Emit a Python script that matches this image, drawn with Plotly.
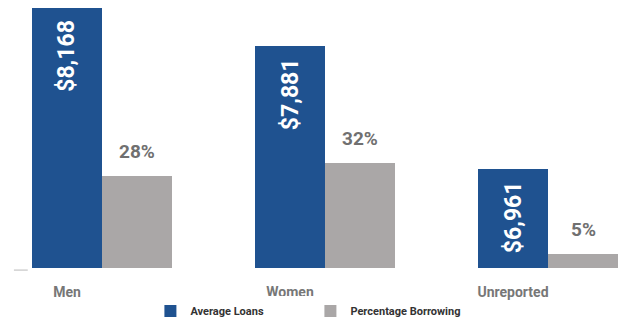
import plotly.graph_objects as go

# Data
categories = ["Men", "Women", "Unreported"]
avg_loans = [8168, 7881, 6961]
pct_borrowing = [28, 32, 5]

BLUE = "#1f5290"
GRAY = "#aaa7a7"
FONT = "Roboto"

bar_w = 0.314
idx = list(range(len(categories)))
x_blue = [i - bar_w / 2 for i in idx]
x_gray = [i + bar_w / 2 for i in idx]

fig = go.Figure()
fig.add_trace(go.Bar(
    name="Average Loans", x=x_blue, y=avg_loans, width=bar_w,
    marker=dict(color=BLUE, line=dict(width=0)), yaxis="y",
))
fig.add_trace(go.Bar(
    name="Percentage Borrowing", x=x_gray, y=pct_borrowing, width=bar_w,
    marker=dict(color=GRAY, line=dict(width=0)), yaxis="y2",
))

# Value labels: rotated inside the blue bars, above the gray bars
for xb, v in zip(x_blue, avg_loans):
    fig.add_annotation(
        x=xb, y=v, xref="x", yref="y", text=f"${v:,}", textangle=-90,
        showarrow=False, xanchor="center", yanchor="top", yshift=-10,
        font=dict(family=FONT, size=23, color="white", weight="bold"),
    )
for xg, v in zip(x_gray, pct_borrowing):
    fig.add_annotation(
        x=xg, y=v, xref="x", yref="y2", text=f"{v}%",
        showarrow=False, xanchor="center", yanchor="bottom", yshift=11,
        font=dict(family=FONT, size=19, color="#707070", weight="bold"),
    )

# short baseline stub at the left edge
fig.add_shape(type="line", xref="x", yref="paper",
              x0=-0.395, x1=-0.333, y0=-0.008, y1=-0.008,
              line=dict(color="#d0d0d0", width=1.5))

fig.update_layout(
    width=621, height=322,
    margin=dict(l=12, r=0, t=5, b=54, autoexpand=False),
    paper_bgcolor="white", plot_bgcolor="white",
    barmode="overlay", bargap=0,
    showlegend=True,
    legend=dict(
        orientation="h", x=0.49, xanchor="center", y=-0.108, yanchor="top",
        font=dict(family=FONT, size=11, color="#333333", weight="bold"),
        entrywidth=115, itemwidth=30, traceorder="normal",
    ),
    xaxis=dict(
        range=[-0.4036, 2.3274], tickvals=x_blue, ticktext=categories,
        showgrid=False, zeroline=False, showline=False, ticks="",
        ticklabelstandoff=14,
        tickfont=dict(family=FONT, size=14, color="#777777", weight="bold"),
    ),
    yaxis=dict(range=[6222, 8189], visible=False, showgrid=False),
    yaxis2=dict(range=[0.75, 79.0], visible=False, showgrid=False,
                overlaying="y", side="right"),
)

fig.write_html("out.html")
